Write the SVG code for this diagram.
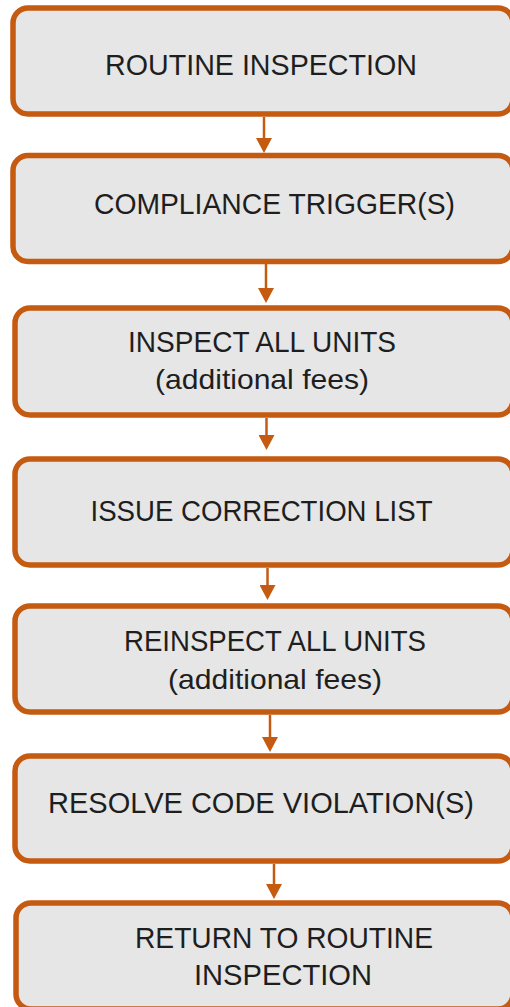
<svg xmlns="http://www.w3.org/2000/svg" width="510" height="1007" viewBox="0 0 510 1007">
  <style>
    .box { fill: #E6E6E6; stroke: #C55A11; stroke-width: 5.5; }
    .lbl { font-family: "Liberation Sans", Arial, sans-serif; font-size: 30px; fill: #1E1E1E; text-anchor: middle; }
    .sub { font-size: 28px; }
    .conn { stroke: #C55A11; stroke-width: 2.5; fill: none; marker-end: url(#arrow); }
  </style>
  <defs>
    <marker id="arrow" viewBox="0 0 15 16" refX="11" refY="8" markerWidth="15" markerHeight="16" markerUnits="userSpaceOnUse" orient="auto">
      <path d="M0,0 L15,8 L0,16 Z" fill="#C55A11"/>
    </marker>
  </defs>
  <rect width="510" height="1007" fill="#FFFFFF"/>
  <g id="connectors">
    <line class="conn" x1="264" y1="117" x2="264" y2="149"/>
    <line class="conn" x1="266" y1="264" x2="266" y2="299"/>
    <line class="conn" x1="266.5" y1="418" x2="266.5" y2="446"/>
    <line class="conn" x1="267.5" y1="568" x2="267.5" y2="596"/>
    <line class="conn" x1="270" y1="715" x2="270" y2="748"/>
    <line class="conn" x1="274" y1="864" x2="274" y2="895"/>
  </g>
  <g id="node-routine">
    <rect class="box" x="13" y="8" width="500" height="106" rx="15"/>
    <text class="lbl" x="261" y="75" textLength="312" lengthAdjust="spacingAndGlyphs">ROUTINE INSPECTION</text>
  </g>
  <g id="node-trigger">
    <rect class="box" x="13" y="155.5" width="500" height="106" rx="15"/>
    <text class="lbl" x="274.5" y="214" textLength="361" lengthAdjust="spacingAndGlyphs">COMPLIANCE TRIGGER(S)</text>
  </g>
  <g id="node-inspect">
    <rect class="box" x="15" y="308" width="498" height="107" rx="15"/>
    <text class="lbl" x="262" y="352" textLength="268" lengthAdjust="spacingAndGlyphs">INSPECT ALL UNITS</text>
    <text class="lbl sub" x="262" y="389" textLength="214" lengthAdjust="spacingAndGlyphs">(additional fees)</text>
  </g>
  <g id="node-correction">
    <rect class="box" x="15" y="459" width="498" height="106" rx="15"/>
    <text class="lbl" x="261.5" y="521" textLength="342" lengthAdjust="spacingAndGlyphs">ISSUE CORRECTION LIST</text>
  </g>
  <g id="node-reinspect">
    <rect class="box" x="15" y="606" width="498" height="106" rx="15"/>
    <text class="lbl" x="275" y="651" textLength="302" lengthAdjust="spacingAndGlyphs">REINSPECT ALL UNITS</text>
    <text class="lbl sub" x="275" y="689" textLength="214" lengthAdjust="spacingAndGlyphs">(additional fees)</text>
  </g>
  <g id="node-resolve">
    <rect class="box" x="15" y="756" width="498" height="105" rx="15"/>
    <text class="lbl" x="261" y="813" textLength="426" lengthAdjust="spacingAndGlyphs">RESOLVE CODE VIOLATION(S)</text>
  </g>
  <g id="node-return">
    <rect class="box" x="16" y="903" width="497" height="106" rx="15"/>
    <text class="lbl" x="284" y="948" textLength="298" lengthAdjust="spacingAndGlyphs">RETURN TO ROUTINE</text>
    <text class="lbl" x="283" y="985" textLength="178" lengthAdjust="spacingAndGlyphs">INSPECTION</text>
  </g>
</svg>
